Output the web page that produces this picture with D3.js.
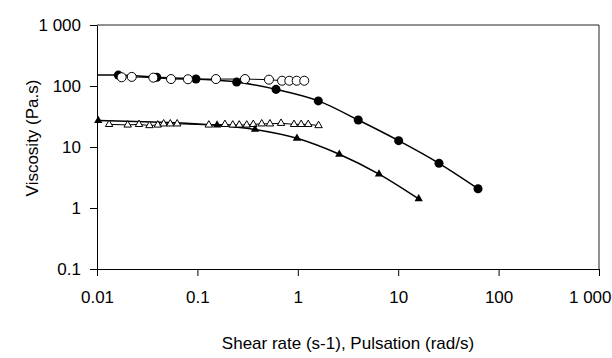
<!DOCTYPE html>
<html>
<head>
<meta charset="utf-8">
<script src="https://cdn.jsdelivr.net/npm/d3@7/dist/d3.min.js"></script>
<style>
  body { margin: 0; background: #fff; }
  text { font-family: "Liberation Sans", Arial, sans-serif; }
</style>
</head>
<body>
<div id="chart"></div>
<script>
// filled circles (flow curve)
var flowX = [0.0163, 0.0394, 0.0968, 0.246, 0.607, 1.6, 4.0, 10.1, 25.5, 62.4];
var flowY = [151, 139, 130, 116, 88, 57, 27.7, 12.7, 5.4, 2.07];
// fitted line for filled circles starts at the y axis
var flowFitStart = [0.01, 152];

// open circles (oscillation)
var oscX = [0.0176, 0.0222, 0.0364, 0.0546, 0.0805, 0.153, 0.298, 0.516, 0.697, 0.823, 0.975, 1.16];
var oscY = [139, 141, 137, 130, 129, 130, 130, 127, 122, 122, 122, 122];

// filled triangles (flow curve)
var flow2X = [0.0103, 0.157, 0.375, 0.98, 2.59, 6.44, 16.0];
var flow2Y = [27.2, 22.8, 19.4, 13.9, 7.6, 3.6, 1.41];

// open triangles (oscillation)
var osc2X = [0.0132, 0.0202, 0.0262, 0.0333, 0.0403, 0.0461, 0.0537, 0.0629, 0.130, 0.188, 0.225,
             0.261, 0.310, 0.360, 0.437, 0.528, 0.681, 0.917, 1.08, 1.27, 1.61];
var osc2Y = [23.5, 23, 23.5, 22.5, 23, 24, 24, 24, 23, 23.5, 23, 23, 23, 23.5, 24, 24, 24.5, 23.5, 23.5, 23.5, 22.5];

var xTicks = [0.01, 0.1, 1, 10, 100, 1000];
var xTickLabels = ["0.01", "0.1", "1", "10", "100", "1 000"];
var yTicks = [0.1, 1, 10, 100, 1000];
var yTickLabels = ["0.1", "1", "10", "100", "1 000"];

var margin = {top: 25, right: 13, bottom: 89, left: 97};
var width = 612 - margin.left - margin.right;
var height = 358 - margin.top - margin.bottom;

var svg = d3.select("#chart")
    .append("svg")
    .attr("width", 612)
    .attr("height", 358)
    .append("g")
    .attr("transform", "translate(" + margin.left + "," + margin.top + ")");

var x = d3.scaleLog().domain([0.01, 1000]).range([0, width]);
var y = d3.scaleLog().domain([0.1, 1000]).range([height, 0]);

function zip(xs, ys) {
    return xs.map((v, i) => ({x: v, y: ys[i]}));
}
var flow = zip(flowX, flowY);
var osc = zip(oscX, oscY);
var flow2 = zip(flow2X, flow2Y);
var osc2 = zip(osc2X, osc2Y);

// frame (top and right)
svg.append("path")
    .attr("d", "M0,0H" + width + "V" + height)
    .attr("fill", "none")
    .attr("stroke", "#222")
    .attr("stroke-width", 1);

var xAxis = svg.append("g")
    .attr("transform", "translate(0," + height + ")")
    .call(d3.axisBottom(x).tickValues(xTicks).tickSize(7).tickSizeOuter(0)
        .tickFormat((d, i) => xTickLabels[i]));

var yAxis = svg.append("g")
    .call(d3.axisLeft(y).tickValues(yTicks).tickSize(7).tickSizeOuter(0)
        .tickFormat((d, i) => yTickLabels[i]));

[xAxis, yAxis].forEach(function(g) {
    g.select(".domain").attr("stroke", "#000");
    g.selectAll(".tick line").attr("stroke", "#000");
    g.selectAll("text").attr("font-size", 17).attr("fill", "#000")
        .style("font-family", "'Liberation Sans', Arial, sans-serif");
});
xAxis.selectAll("text").attr("dy", "0.71em").attr("y", 22);
yAxis.selectAll("text").attr("x", -16);

// like the original, the last label is pushed inside the picture edge
xAxis.selectAll(".tick text")
    .filter(d => d === 1000)
    .attr("text-anchor", "end")
    .attr("x", 612 - margin.left - width - 1);

svg.append("text")
    .attr("transform", "rotate(-90)")
    .attr("x", -113)
    .attr("y", -59)
    .style("text-anchor", "middle")
    .attr("font-size", 17)
    .text("Viscosity (Pa.s)");

svg.append("text")
    .attr("x", width / 2)
    .attr("y", height + 80)
    .style("text-anchor", "middle")
    .attr("font-size", 17)
    .text("Shear rate (s-1), Pulsation (rad/s)");

var curve = d3.line()
    .x(d => x(d.x))
    .y(d => y(d.y))
    .curve(d3.curveMonotoneX);
var straight = d3.line()
    .x(d => x(d.x))
    .y(d => y(d.y));

svg.append("path")
    .datum([{x: flowFitStart[0], y: flowFitStart[1]}].concat(flow))
    .attr("fill", "none").attr("stroke", "#000").attr("stroke-width", 1.5)
    .attr("d", curve);

svg.append("path")
    .datum(flow2)
    .attr("fill", "none").attr("stroke", "#000").attr("stroke-width", 1.5)
    .attr("d", curve);

svg.append("path")
    .datum(osc)
    .attr("fill", "none").attr("stroke", "#000").attr("stroke-width", 1)
    .attr("d", straight);

svg.append("path")
    .datum(osc2)
    .attr("fill", "none").attr("stroke", "#000").attr("stroke-width", 1)
    .attr("d", straight);

var circle = d3.symbol().type(d3.symbolCircle).size(64);
var tri = d3.symbol().type(d3.symbolTriangle).size(24);
var triF = d3.symbol().type(d3.symbolTriangle).size(30);

svg.selectAll(".flow")
    .data(flow)
    .enter().append("path")
    .attr("transform", d => "translate(" + x(d.x) + "," + y(d.y) + ")")
    .attr("d", circle)
    .attr("fill", "#000");

svg.selectAll(".osc")
    .data(osc)
    .enter().append("path")
    .attr("transform", d => "translate(" + x(d.x) + "," + y(d.y) + ")")
    .attr("d", circle)
    .attr("fill", "#fff")
    .attr("stroke", "#000")
    .attr("stroke-width", 1);

svg.selectAll(".osc2")
    .data(osc2)
    .enter().append("path")
    .attr("transform", d => "translate(" + x(d.x) + "," + y(d.y) + ")")
    .attr("d", tri)
    .attr("fill", "#fff")
    .attr("stroke", "#000")
    .attr("stroke-width", 1);

svg.selectAll(".flow2")
    .data(flow2)
    .enter().append("path")
    .attr("transform", d => "translate(" + x(d.x) + "," + y(d.y) + ")")
    .attr("d", triF)
    .attr("fill", "#000");
</script>
</body>
</html>
